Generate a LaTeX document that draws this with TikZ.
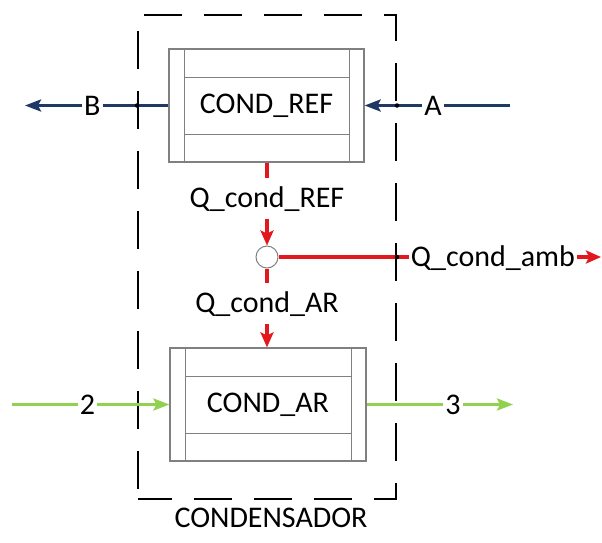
\documentclass[tikz,border=0pt]{standalone}
\usepackage{fontspec}
\setmainfont{Carlito}
\usetikzlibrary{calc,arrows.meta}
\definecolor{navy}{RGB}{31,56,100}
\definecolor{hred}{RGB}{225,25,30}
\definecolor{lgreen}{RGB}{146,208,80}
\definecolor{bgray}{RGB}{128,128,128}
\newcommand\blockinner[1]{%
  \draw[blockline] ($(#1.north west)+(16,0)$) -- ($(#1.south west)+(16,0)$);
  \draw[blockline] ($(#1.north east)+(-15,0)$) -- ($(#1.south east)+(-15,0)$);
  \draw[blockline] ($(#1.north west)+(16,29)$) -- ($(#1.north east)+(-15,29)$);
  \draw[blockline] ($(#1.south west)+(16,-28)$) -- ($(#1.south east)+(-15,-28)$);}
\begin{document}
\begin{tikzpicture}[x=1pt,y=-1pt,font=\fontsize{30}{36}\selectfont,
  block/.style={draw=bgray,line width=1.2pt,minimum width=195pt,minimum height=113pt,inner sep=0pt},
  blockline/.style={draw=bgray,line width=1.2pt},
  mixer/.style={circle,draw=bgray,line width=1pt,fill=white,minimum size=22pt,inner sep=0pt},
  ctrlvol/.style={draw=black,line width=2pt,dash pattern=on 38pt off 22pt,dash phase=4pt,minimum width=258pt,minimum height=484pt,inner sep=0pt},
  lbl/.style={fill=white,inner xsep=2pt,inner ysep=6pt,text height=24pt,text depth=5pt},
  flowb/.style={draw=navy,line width=3pt,-{Stealth[length=16pt,width=12pt,inset=3pt]}},
  flowr/.style={draw=hred,line width=3.2pt,-{Stealth[length=15pt,width=13pt,inset=3pt]}},
  flowg/.style={draw=lgreen,line width=3pt,-{Stealth[length=16pt,width=12pt,inset=3pt]}},
  xdot/.style={circle,fill=black,inner sep=0pt,minimum size=4.5pt}]
\useasboundingbox (0,0) rectangle (602,542);
\node[ctrlvol] (cv) at (267,257) {};
\node[block] (ref) at (266.5,105.5) {COND\_REF};
\blockinner{ref}
\node[block,minimum width=196pt] (ar) at (268,404.5) {COND\_AR};
\blockinner{ar}
\node[mixer] (mix) at (267,257) {};
% red heat flows
\draw[flowr] (ref.south -| mix) -- node[lbl,pos=0.43]{Q\_cond\_REF} (mix.north);
\draw[flowr] (mix.south) -- node[lbl,pos=0.44]{Q\_cond\_AR} (ar.north -| mix);
\coordinate (qout) at (601,257);
\draw[flowr] (mix.east) -- node[lbl,pos=0.665]{Q\_cond\_amb} (qout);
% blue refrigerant
\coordinate (bout) at (25,105.5);
\coordinate (ain) at (510,105.5);
\draw[flowb] (ref.west) -- node[lbl,pos=0.53]{B} (bout);
\draw[flowb] (ain) -- node[lbl,pos=0.53]{A} (ref.east);
% green air
\coordinate (gin) at (12,404.5);
\coordinate (gout) at (513,404.5);
\draw[flowg] (gin) -- node[lbl,pos=0.48]{2} (ar.west);
\draw[flowg] (ar.east) -- node[lbl,pos=0.59]{3} (gout);
% crossing dots
\node[xdot] (d1) at (ref.west -| cv.west) {};
\node[xdot] (d2) at (ref.east -| cv.east) {};
\node[xdot] (d3) at (mix.east -| cv.east) {};
\node[anchor=base] (cap) at (271,527.5) {CONDENSADOR};
\end{tikzpicture}
\end{document}
